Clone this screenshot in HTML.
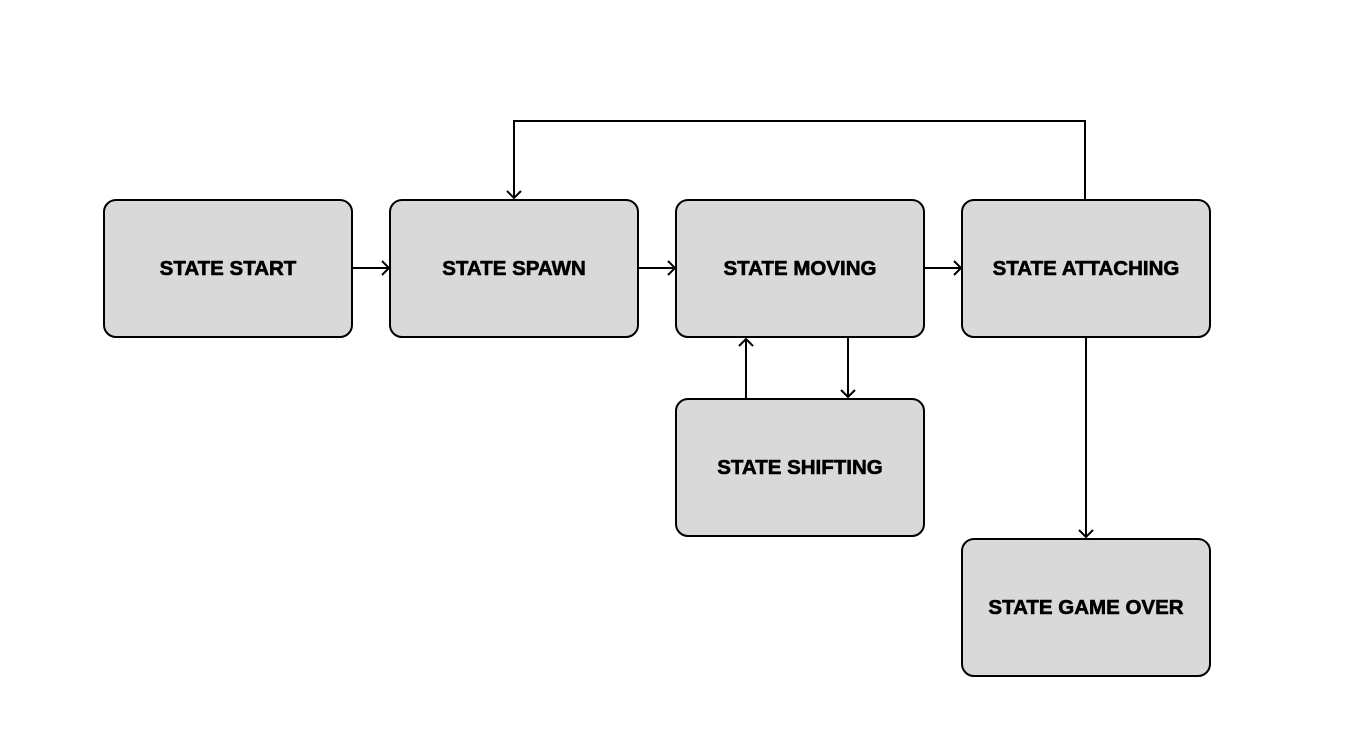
<!DOCTYPE html>
<html><head><meta charset="utf-8"><style>
html,body{margin:0;padding:0;background:#fff;width:1348px;height:735px;overflow:hidden}
text{font-family:"Liberation Sans",Arial,sans-serif;font-weight:bold;font-size:20.5px;fill:#000;stroke:#000;stroke-width:0.6px}
</style></head><body>
<svg width="1348" height="735" viewBox="0 0 1348 735" xmlns="http://www.w3.org/2000/svg">
<g fill="#d9d9d9" stroke="#000" stroke-width="2">
<rect x="104" y="200" width="248" height="137" rx="12"/>
<rect x="390" y="200" width="248" height="137" rx="12"/>
<rect x="676" y="200" width="248" height="137" rx="12"/>
<rect x="962" y="200" width="248" height="137" rx="12"/>
<rect x="676" y="399" width="248" height="137" rx="12"/>
<rect x="962" y="539" width="248" height="137" rx="12"/>
</g>
<g fill="none" stroke="#000" stroke-width="2">
<path d="M352 268H389M382 261l7 7-7 7"/>
<path d="M638 268H675M668 261l7 7-7 7"/>
<path d="M924 268H961M954 261l7 7-7 7"/>
<path d="M1085 199V121H514V198M507 191l7 7 7-7"/>
<path d="M746 398V339M739 346l7-7 7 7"/>
<path d="M848 337V397M841 390l7 7 7-7"/>
<path d="M1086 337V537M1079 530l7 7 7-7"/>
</g>
<g text-anchor="middle">
<text x="228" y="275">STATE START</text>
<text x="514" y="275">STATE SPAWN</text>
<text x="800" y="275">STATE MOVING</text>
<text x="1086" y="275">STATE ATTACHING</text>
<text x="800" y="474">STATE SHIFTING</text>
<text x="1086" y="614">STATE GAME OVER</text>
</g>
</svg>
</body></html>
